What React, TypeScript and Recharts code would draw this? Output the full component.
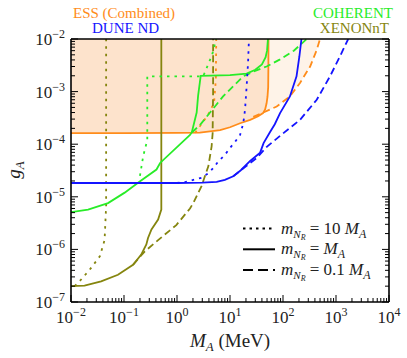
import { ComposedChart, Line, Area, XAxis, YAxis, Customized } from 'recharts';

type Pt = { x: number; y: number };

const SERIF = '"Liberation Serif", "Times New Roman", serif';

const ORANGE = '#ff8c1a';
const BLUE = '#1414ff';
const GREEN = '#28ec28';
const OLIVE = '#85850e';
const FILL_DARK = '#fde3cc';
const FILL_LIGHT = '#fef3e8';

// axis ticks (decades)
const xMajorTicks = [1e-2, 1e-1, 1, 10, 100, 1000, 10000];
const yMajorTicks = [1e-7, 1e-6, 1e-5, 1e-4, 1e-3, 1e-2];

const withMinor = (decades: number[]) => {
  const out: number[] = [...decades];
  decades.slice(0, -1).forEach((d) => {
    for (let k = 2; k < 10; k++) out.push(d * k);
  });
  return out.sort((a, b) => a - b);
};
const xTicks = withMinor(xMajorTicks);
const yTicks = withMinor(yMajorTicks);

const isMajor = (v: number) => Math.abs(Math.log10(v) - Math.round(Math.log10(v))) < 1e-6;

const pts = (arr: number[][]): Pt[] => arr.map(([x, y]) => ({ x, y }));

// ESS (Combined)
const essSolid = pts([
  [0.01, 1.63e-4], [0.1, 1.63e-4], [1, 1.64e-4], [2.7, 1.66e-4], [6.5, 1.86e-4],
  [10, 2.1e-4], [15.5, 2.5e-4], [24, 2.9e-4], [34, 3.4e-4], [42, 3.9e-4],
  [46, 4.6e-4], [49, 6e-4], [51, 8e-4], [52.5, 1.2e-3], [53, 3e-3], [53.2, 1e-2],
]);
const essDashed = pts([
  [27.5, 3.3e-4], [76, 5.2e-4], [135, 8.1e-4], [209, 1.46e-3], [325, 3e-3],
  [433, 6.2e-3], [500, 1e-2],
]);
const essDashedFill = pts([
  [0.01, 1.63e-4], [0.1, 1.63e-4], [1, 1.64e-4], [2.7, 1.66e-4], [6.5, 1.86e-4],
  [10, 2.1e-4], [15.5, 2.5e-4], [27.5, 3.3e-4], [76, 5.2e-4], [135, 8.1e-4],
  [209, 1.46e-3], [325, 3e-3], [433, 6.2e-3], [500, 1e-2],
]);
const essDotted = pts([
  [2.2, 1.65e-4], [2.75, 2.25e-4], [3.85, 3.6e-4], [5, 6.1e-4], [5.4, 1.67e-3], [5.5, 1e-2],
]);

// DUNE ND
const duneSolid = pts([
  [0.01, 1.83e-5], [1, 1.83e-5], [3, 1.86e-5], [5.6, 1.93e-5], [8, 2.1e-5],
  [11.5, 2.45e-5], [16, 3.2e-5], [24, 4.8e-5], [37, 6.9e-5], [43, 1.05e-4],
  [57, 1.7e-4], [70, 2.4e-4], [88, 3.9e-4], [135, 8.1e-4], [180, 1.95e-3],
  [204, 4.7e-3], [223, 1e-2],
]);
const duneDashed = pts([
  [11.5, 2.45e-5], [20, 3.8e-5], [32, 5.5e-5], [50, 9e-5], [100, 1.6e-4],
  [209, 2.9e-4], [433, 7e-4], [771, 1.95e-3], [1190, 4.7e-3], [1700, 1e-2],
]);
const duneDotted = pts([
  [1, 1.83e-5], [1.42, 1.9e-5], [2.03, 2.1e-5], [2.9, 2.3e-5], [3.9, 2.8e-5],
  [4.8, 3.5e-5], [6, 4.7e-5], [8.05, 6.3e-5], [10, 8.5e-5], [12.4, 1.1e-4],
  [15.5, 1.5e-4], [17.8, 2.5e-4], [19.2, 4.5e-4], [20.6, 1.26e-3], [21.9, 3.5e-3],
  [22.8, 1e-2],
]);

// COHERENT
const cohSolid = pts([
  [0.01, 5.1e-6], [0.021, 5.7e-6], [0.05, 7.6e-6], [0.103, 1.2e-5], [0.198, 1.96e-5],
  [0.41, 3.3e-5], [0.48, 4.4e-5], [1.76, 1.5e-4], [1.9, 1.67e-4], [2.35, 4e-4],
  [2.5, 8.3e-4], [2.8, 2e-3], [10, 2.05e-3], [20.6, 2.2e-3], [30, 2.6e-3],
  [40, 3.3e-3], [47, 4.5e-3], [50, 6e-3], [52, 1e-2],
]);
const cohDashed = pts([
  [1.9, 1.67e-4], [2.7, 2.3e-4], [4.2, 4e-4], [7.4, 8.1e-4], [11.5, 1.26e-3],
  [17.8, 1.95e-3], [27.5, 2.4e-3], [49, 3e-3], [88, 4.1e-3], [160, 6e-3], [280, 1e-2],
]);
const cohDotted = pts([
  [0.2, 2.5e-5], [0.23, 5.9e-5], [0.275, 1.2e-4], [0.275, 1.95e-3], [1, 1.95e-3],
  [3.1, 1.95e-3], [3.4, 2.4e-3], [4.6, 5e-3], [5.5, 1e-2],
]);

// XENONnT
const xenSolid = pts([
  [0.01, 2e-7], [0.018, 2.04e-7], [0.037, 2.46e-7], [0.077, 3.3e-7], [0.148, 5.1e-7],
  [0.21, 7.9e-7], [0.264, 1.24e-6], [0.284, 1.65e-6], [0.33, 2.4e-6], [0.44, 3.7e-6],
  [0.506, 5.7e-6], [0.506, 1e-2],
]);
const xenDashed = pts([
  [0.148, 5.1e-7], [0.245, 9.1e-7], [0.44, 1.5e-6], [0.97, 2.9e-6], [1.76, 6e-6],
  [2.03, 7.6e-6], [2.9, 1.6e-5], [3.9, 3.8e-5], [4.5, 9.1e-5], [4.7, 1.6e-4],
  [4.8, 1e-3], [4.8, 1e-2],
]);
const xenDotted = pts([
  [0.0117, 2e-7], [0.0146, 2.5e-7], [0.0225, 4.1e-7], [0.035, 7.4e-7], [0.043, 1.5e-6],
  [0.046, 6.6e-6], [0.046, 1e-2],
]);

const DASH = '7 4';
const DOT = '2.5 5';

const curves = [
  { id: 'essSolid', data: essSolid, color: ORANGE, dash: undefined },
  { id: 'essDashed', data: essDashed, color: ORANGE, dash: DASH },
  { id: 'essDotted', data: essDotted, color: ORANGE, dash: DOT },
  { id: 'xenSolid', data: xenSolid, color: OLIVE, dash: undefined },
  { id: 'xenDashed', data: xenDashed, color: OLIVE, dash: DASH },
  { id: 'xenDotted', data: xenDotted, color: OLIVE, dash: DOT },
  { id: 'cohSolid', data: cohSolid, color: GREEN, dash: undefined },
  { id: 'cohDashed', data: cohDashed, color: GREEN, dash: DASH },
  { id: 'cohDotted', data: cohDotted, color: GREEN, dash: DOT },
  { id: 'duneSolid', data: duneSolid, color: BLUE, dash: undefined },
  { id: 'duneDashed', data: duneDashed, color: BLUE, dash: DASH },
  { id: 'duneDotted', data: duneDotted, color: BLUE, dash: DOT },
];

const legendRows = [
  { dash: '2.5 4', ratio: '10\u00a0' },
  { dash: undefined, ratio: '' },
  { dash: '10 5', ratio: '0.1\u00a0' },
];

const sup = (v: number) => {
  const e = Math.round(Math.log10(v));
  return e < 0 ? `\u2212${-e}` : `${e}`;
};

const MAJOR = 7;
const MINOR = 4;

const BottomTick = ({ x, y, payload }: any) => {
  const major = isMajor(payload.value);
  return (
    <g>
      <line x1={x} x2={x} y1={y} y2={y - (major ? MAJOR : MINOR)} stroke="#000" strokeWidth={1} />
      {major && (
        <text x={x} y={y + 21} textAnchor="middle" fontFamily={SERIF} fontSize={17} fill="#222">
          10<tspan dy={-7} fontSize={12}>{sup(payload.value)}</tspan>
        </text>
      )}
    </g>
  );
};

const TopTick = ({ x, y, payload }: any) => (
  <line x1={x} x2={x} y1={y} y2={y + (isMajor(payload.value) ? MAJOR : MINOR)} stroke="#000" strokeWidth={1} />
);

const LeftTick = ({ x, y, payload }: any) => {
  const major = isMajor(payload.value);
  return (
    <g>
      <line x1={x} x2={x + (major ? MAJOR : MINOR)} y1={y} y2={y} stroke="#000" strokeWidth={1} />
      {major && (
        <text x={x - 6} y={y + 6} textAnchor="end" fontFamily={SERIF} fontSize={17} fill="#222">
          10<tspan dy={-7} fontSize={12}>{sup(payload.value)}</tspan>
        </text>
      )}
    </g>
  );
};

const RightTick = ({ x, y, payload }: any) => (
  <line x1={x} x2={x - (isMajor(payload.value) ? MAJOR : MINOR)} y1={y} y2={y} stroke="#000" strokeWidth={1} />
);

const Annotations = () => (
  <g fontFamily={SERIF}>
    <text x={73} y={18} fontSize={15} fill={ORANGE}>ESS (Combined)</text>
    <text x={92} y={33} fontSize={15} fill={BLUE}>DUNE ND</text>
    <text x={393} y={18} fontSize={15} fill={GREEN} textAnchor="end">COHERENT</text>
    <text x={389} y={33} fontSize={15} fill={OLIVE} textAnchor="end">XENONnT</text>
    <text x={230} y={347} fontSize={19} textAnchor="middle" fill="#222">
      <tspan fontStyle="italic">M</tspan>
      <tspan fontStyle="italic" fontSize={13} dy={4}>A</tspan>
      <tspan dy={-4}>{'\u00a0(MeV)'}</tspan>
    </text>
    <text transform="translate(20,170) rotate(-90)" fontSize={19} textAnchor="middle" fill="#222">
      <tspan fontStyle="italic">g</tspan>
      <tspan fontStyle="italic" fontSize={13} dy={4}>A</tspan>
    </text>
    {legendRows.map((r, i) => {
      const ry = 228.5 + i * 20.8;
      return (
        <g key={i}>
          <line x1={243} x2={275} y1={ry} y2={ry} stroke="#000" strokeWidth={2} strokeDasharray={r.dash} />
          <text x={281} y={ry + 5} fontSize={17} fill="#222">
            <tspan fontStyle="italic">m</tspan>
            <tspan fontStyle="italic" fontSize={11} dy={4}>N</tspan>
            <tspan fontStyle="italic" fontSize={8} dy={2}>R</tspan>
            <tspan dy={-6}>{`\u00a0=\u00a0${r.ratio}`}</tspan>
            <tspan fontStyle="italic">M</tspan>
            <tspan fontStyle="italic" fontSize={12} dy={4}>A</tspan>
          </text>
        </g>
      );
    })}
  </g>
);

const axisCommon = {
  type: 'number' as const,
  scale: 'log' as const,
  allowDataOverflow: true,
  interval: 0 as const,
  tickSize: 0,
  tickMargin: 0,
  tickLine: false,
  axisLine: { stroke: '#000', strokeWidth: 1.6 },
};

export default function App() {
  return (
    <div style={{ position: 'absolute', left: 0, top: 0, background: '#fff' }}>
      <ComposedChart width={407} height={358} margin={{ top: 38, right: 17, bottom: 55, left: 70 }}>
        <XAxis {...axisCommon} xAxisId="x" dataKey="x" domain={[1e-2, 1e4]} ticks={xTicks}
          height={1} tick={<BottomTick />} />
        <XAxis {...axisCommon} xAxisId="xt" orientation="top" domain={[1e-2, 1e4]} ticks={xTicks}
          height={1} tick={<TopTick />} />
        <YAxis {...axisCommon} yAxisId="y" dataKey="y" domain={[1e-7, 1e-2]} ticks={yTicks}
          width={1} tick={<LeftTick />} />
        <YAxis {...axisCommon} yAxisId="yr" orientation="right" domain={[1e-7, 1e-2]} ticks={yTicks}
          width={1} tick={<RightTick />} />

        <Area xAxisId="x" yAxisId="y" data={essDashedFill} dataKey="y" baseValue={1e-2}
          type="linear" stroke="none" fill={FILL_LIGHT} fillOpacity={1} isAnimationActive={false} />
        <Area xAxisId="x" yAxisId="y" data={essSolid} dataKey="y" baseValue={1e-2}
          type="linear" stroke="none" fill={FILL_DARK} fillOpacity={1} isAnimationActive={false} />

        {curves.map((c) => (
          <Line key={c.id} xAxisId="x" yAxisId="y" data={c.data} dataKey="y" type="linear"
            stroke={c.color} strokeWidth={1.8} strokeDasharray={c.dash} dot={false}
            activeDot={false} isAnimationActive={false} />
        ))}

        <Customized component={Annotations} />
      </ComposedChart>
    </div>
  );
}
